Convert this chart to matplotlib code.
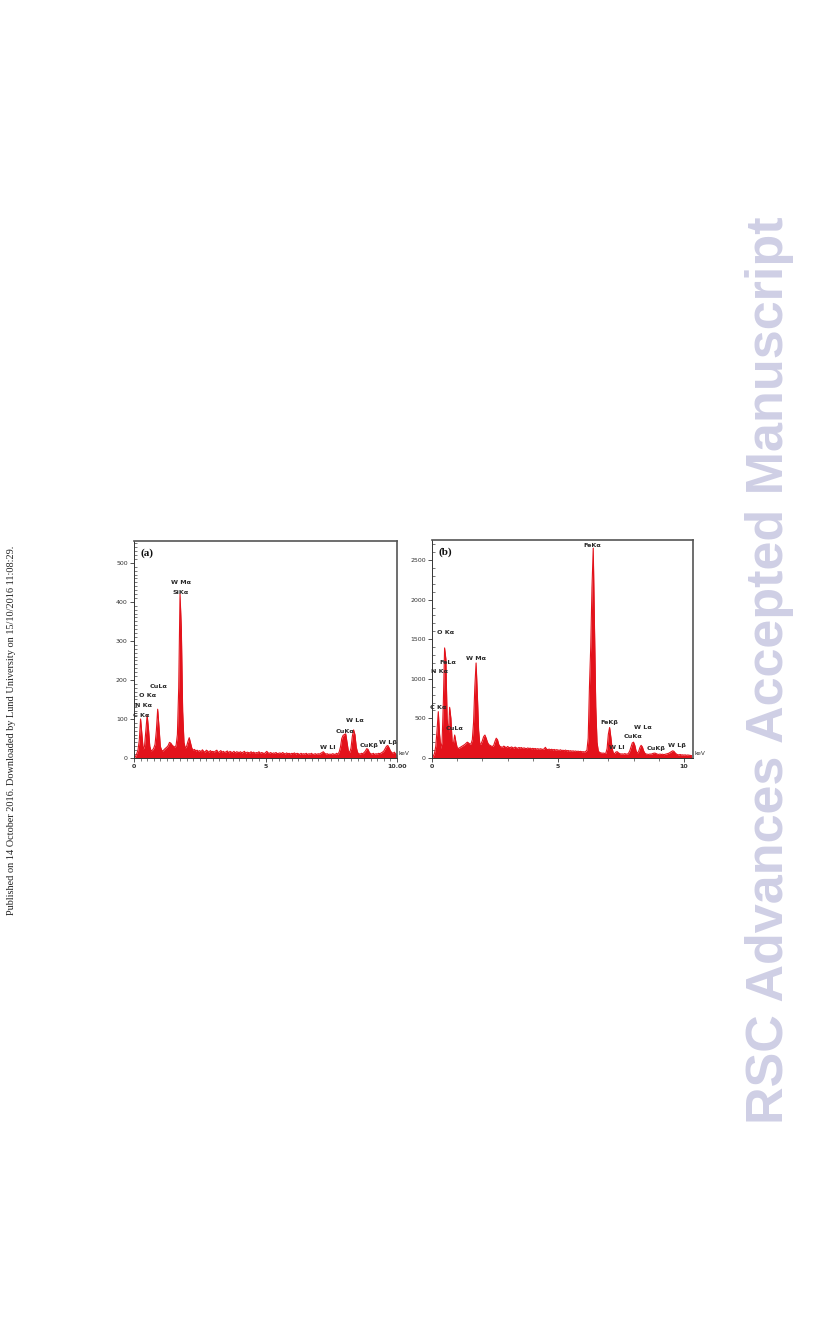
import numpy as np
import matplotlib
matplotlib.use("Agg")
import matplotlib.pyplot as plt
from matplotlib.ticker import MultipleLocator

# EDS spectra, counts per 0.05 keV channel
STEP = 0.05
counts_a = [
    0, 3, 10, 20, 45, 100, 60, 22, 30, 70,
    110, 75, 30, 18, 20, 25, 35, 70, 125, 80,
    30, 20, 18, 22, 25, 28, 32, 40, 38, 33,
    30, 28, 32, 60, 180, 420, 330, 120, 40, 25,
    30, 42, 52, 38, 25, 20, 22, 18, 20, 17,
    19, 16, 21, 17, 15, 20, 18, 14, 19, 16,
    17, 15, 18, 20, 14, 16, 19, 15, 17, 14,
    16, 18, 13, 17, 15, 14, 17, 13, 16, 15,
    14, 16, 13, 15, 17, 12, 15, 14, 13, 16,
    13, 15, 12, 14, 13, 16, 12, 14, 13, 11,
    14, 17, 13, 12, 14, 11, 13, 12, 14, 11,
    12, 13, 11, 14, 12, 10, 13, 11, 12, 10,
    12, 11, 13, 10, 12, 11, 9, 12, 10, 11,
    10, 12, 9, 11, 10, 12, 9, 10, 11, 9,
    11, 10, 12, 14, 16, 12, 10, 11, 9, 10,
    9, 11, 10, 9, 12, 10, 15, 28, 50, 58,
    60, 62, 40, 18, 14, 25, 55, 72, 60, 28,
    14, 11, 10, 12, 11, 14, 18, 24, 22, 14,
    11, 10, 12, 9, 11, 10, 12, 11, 13, 15,
    18, 24, 30, 32, 26, 18, 14, 12, 15, 10,
    8,
]
counts_b = [
    0, 20, 60, 150, 350, 585, 300, 120, 200, 700,
    1390, 1250, 500, 280, 640, 500, 200, 180, 290, 200,
    130, 120, 130, 140, 150, 160, 170, 185, 200, 190,
    175, 180, 230, 450, 900, 1200, 800, 350, 170, 180,
    220, 270, 290, 250, 200, 170, 160, 150, 145, 160,
    210, 250, 230, 170, 145, 140, 135, 150, 140, 130,
    145, 135, 128, 140, 132, 125, 138, 128, 122, 133,
    126, 132, 120, 128, 122, 118, 127, 120, 124, 115,
    122, 116, 120, 112, 118, 110, 117, 112, 108, 115,
    135, 110, 106, 112, 104, 110, 102, 108, 100, 105,
    100, 96, 104, 94, 98, 92, 100, 90, 95, 88,
    92, 86, 90, 84, 88, 82, 86, 80, 84, 78,
    80, 76, 82, 100, 250, 900, 1400, 2150, 2650, 1650,
    650, 200, 90, 70, 65, 60, 62, 58, 60, 120,
    300, 385, 260, 120, 60, 55, 75, 80, 65, 55,
    50, 52, 48, 55, 50, 48, 60, 90, 140, 190,
    200, 160, 90, 60, 80, 130, 160, 140, 90, 60,
    50, 48, 45, 50, 48, 55, 60, 62, 55, 48,
    45, 50, 44, 48, 42, 46, 50, 55, 60, 70,
    80, 90, 85, 65, 50, 42, 40, 44, 38, 40,
    36, 40, 34, 38, 35, 32, 30,
]

# peak labels: (text, energy keV, counts)
labels_a = [
    ("W M\u03b1", 1.78, 450), ("SiK\u03b1", 1.78, 425),
    ("CuL\u03b1", 0.92, 183), ("O K\u03b1", 0.50, 159),
    ("N K\u03b1", 0.38, 134), ("C K\u03b1", 0.29, 110),
    ("W Ll", 7.38, 28), ("CuK\u03b1", 8.02, 69), ("W L\u03b1", 8.40, 97),
    ("CuK\u03b2", 8.93, 31), ("W L\u03b2", 9.66, 39),
]
labels_b = [
    ("FeK\u03b1", 6.38, 2680), ("O K\u03b1", 0.52, 1588),
    ("FeL\u03b1", 0.64, 1208), ("W M\u03b1", 1.73, 1259),
    ("N K\u03b1", 0.29, 1090), ("C K\u03b1", 0.25, 635),
    ("CuL\u03b1", 0.91, 375), ("FeK\u03b2", 7.04, 448),
    ("W Ll", 7.33, 135), ("CuK\u03b1", 7.96, 269), ("W L\u03b1", 8.39, 388),
    ("CuK\u03b2", 8.89, 114), ("W L\u03b2", 9.71, 155),
]

RED = "#e3121b"
W, H = 816, 1344
fig = plt.figure(figsize=(W / 100, H / 100), dpi=100)


def panel(rect, counts, labels, tag, xmax, ymax, ymaj, ymin, xmin_step, xticklabels):
    ax = fig.add_axes(rect)
    e = np.arange(len(counts)) * STEP
    c = np.array(counts, dtype=float)
    ax.fill_between(e, 0, c, color=RED, lw=0)
    ax.plot(e, c, color=RED, lw=0.8)
    ax.set_xlim(0, xmax)
    ax.set_ylim(0, ymax)
    ax.xaxis.set_minor_locator(MultipleLocator(xmin_step))
    ax.yaxis.set_major_locator(MultipleLocator(ymaj))
    ax.yaxis.set_minor_locator(MultipleLocator(ymin))
    ax.set_xticks([0, 5, 10])
    ax.set_xticklabels(xticklabels)
    ax.tick_params(axis="both", which="major", labelsize=4.5, length=3, width=0.6,
                   pad=1.5, colors="#333333")
    ax.tick_params(axis="both", which="minor", length=1.8, width=0.5, colors="#444444")
    ax.tick_params(axis="y", which="minor", direction="in")
    for lab in ax.get_xticklabels():
        lab.set_fontweight("bold")
    for s in ["top", "right"]:
        ax.spines[s].set_color("#555555")
        ax.spines[s].set_linewidth(1.2)
    for s in ["left", "bottom"]:
        ax.spines[s].set_color("#333333")
        ax.spines[s].set_linewidth(0.7)
    for txt, x, y in labels:
        ax.text(x, y, txt, fontsize=4.6, fontweight="bold", color="#2a2a2a",
                ha="center", va="center")
    ax.text(0.025, 0.945, tag, transform=ax.transAxes, fontsize=8, fontweight="bold",
            family="Liberation Serif", ha="left", va="center", color="#111111")
    ax.text(1.005, 0.02, "keV", transform=ax.transAxes, fontsize=4.2,
            color="#333333", ha="left", va="center")
    return ax


panel([134 / W, 1 - 758 / H, 263 / W, 217 / H], counts_a, labels_a, "(a)",
      10.0, 556, 100, 10, 0.25, ["0", "5", "10.00"])
panel([432 / W, 1 - 758 / H, 261 / W, 218 / H], counts_b, labels_b, "(b)",
      10.36, 2753, 500, 100, 1, ["0", "5", "10"])

fig.text(770 / W, 1 - 670 / H, "RSC Advances Accepted Manuscript", rotation=90,
         fontsize=37.5, fontweight="bold", family="Liberation Sans",
         color="#cfcfe5", ha="center", va="center")
fig.text(12 / W, 1 - 730 / H,
         "Published on 14 October 2016. Downloaded by Lund University on 15/10/2016 11:08:29.",
         rotation=90, fontsize=7.4, family="Liberation Serif", color="#222222",
         ha="center", va="center")

fig.savefig("out.png", dpi=100)
